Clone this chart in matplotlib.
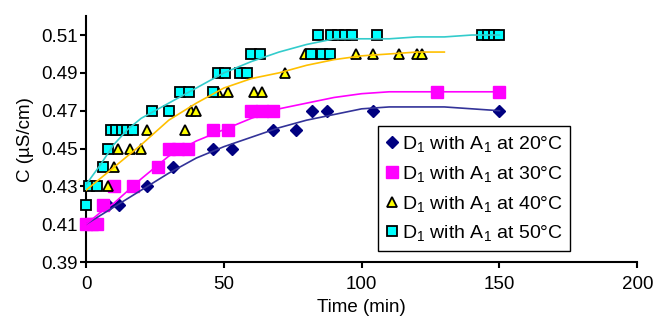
import matplotlib
matplotlib.use("Agg")
import matplotlib.pyplot as plt

plt.rcParams['font.family'] = ['Liberation Sans', 'DejaVu Sans']
plt.rcParams['mathtext.fontset'] = 'custom'
plt.rcParams['mathtext.rm'] = 'Liberation Sans'
plt.rcParams['mathtext.it'] = 'Liberation Sans'

# ---- data ----
t20 = [1, 8, 12, 22, 31.5, 46, 53, 68, 76, 82, 87.5, 104, 150]
c20 = [0.41, 0.42, 0.42, 0.43, 0.44, 0.45, 0.45, 0.46, 0.46, 0.47, 0.47, 0.47, 0.47]

t30 = [0, 2, 4, 6, 10, 17, 26, 30, 33.5, 37, 46, 51.5, 60, 64, 68, 127.5, 150]
c30 = [0.41, 0.41, 0.41, 0.42, 0.43, 0.43, 0.44, 0.45, 0.45, 0.45, 0.46, 0.46,
       0.47, 0.47, 0.47, 0.48, 0.48]

t40 = [8, 10, 11.5, 16, 20, 22, 36, 38, 40, 48, 51.5, 61, 64, 72, 79.5, 98, 104,
       113.5, 120, 122]
c40 = [0.43, 0.44, 0.45, 0.45, 0.45, 0.46, 0.46, 0.47, 0.47, 0.48, 0.48, 0.48,
       0.48, 0.49, 0.50, 0.50, 0.50, 0.50, 0.50, 0.50]

t50 = [0, 1, 4, 6, 8, 9, 11, 13, 15, 17, 24, 30, 34, 37.5, 46, 48, 50.5, 56, 58.5,
       60, 63, 81.5, 85.5, 88.5, 84, 89, 91.5, 94, 96.5, 105.5, 143.5, 146, 148, 150]
c50 = [0.42, 0.43, 0.43, 0.44, 0.45, 0.46, 0.46, 0.46, 0.46, 0.46, 0.47, 0.47,
       0.48, 0.48, 0.48, 0.49, 0.49, 0.49, 0.49, 0.50, 0.50, 0.50, 0.50, 0.50,
       0.51, 0.51, 0.51, 0.51, 0.51, 0.51, 0.51, 0.51, 0.51, 0.51]

# trend curves
ft20 = [0, 10, 20, 30, 40, 50, 60, 70, 80, 90, 100, 110, 120, 130, 140, 150]
fc20 = [0.410, 0.419, 0.428, 0.437, 0.445, 0.451, 0.456, 0.461, 0.465, 0.468,
        0.471, 0.472, 0.472, 0.472, 0.471, 0.470]

ft30 = [0, 5, 10, 20, 30, 40, 50, 60, 70, 80, 90, 100, 110, 120, 130, 140, 150]
fc30 = [0.410, 0.416, 0.421, 0.434, 0.446, 0.454, 0.460, 0.466, 0.471, 0.474,
        0.477, 0.479, 0.480, 0.480, 0.480, 0.480, 0.480]

ft40 = [0, 10, 20, 30, 40, 50, 60, 70, 80, 90, 100, 110, 120, 130]
fc40 = [0.428, 0.440, 0.452, 0.465, 0.474, 0.482, 0.487, 0.490, 0.494, 0.497,
        0.499, 0.500, 0.501, 0.501]

ft50 = [0, 5, 10, 15, 20, 25, 30, 40, 50, 60, 70, 80, 90, 100, 110, 120, 130, 140, 150]
fc50 = [0.431, 0.441, 0.452, 0.460, 0.466, 0.470, 0.474, 0.482, 0.490, 0.496,
        0.501, 0.505, 0.508, 0.508, 0.508, 0.509, 0.509, 0.510, 0.510]

labels = ["D$_1$ with A$_1$ at 20°C", "D$_1$ with A$_1$ at 30°C",
          "D$_1$ with A$_1$ at 40°C", "D$_1$ with A$_1$ at 50°C"]

xticks = [0, 50, 100, 150, 200]
yticks = [0.39, 0.41, 0.43, 0.45, 0.47, 0.49, 0.51]

fig = plt.figure(figsize=(6.57, 3.22), dpi=100)
ax = fig.add_axes([0.131, 0.186, 0.839, 0.764])

lw = 1.2
ax.plot(ft20, fc20, color='#333399', lw=lw, zorder=4)
ax.plot(ft30, fc30, color='#FF00FF', lw=lw, zorder=4)
ax.plot(ft40, fc40, color='#FFC000', lw=lw, zorder=4)
ax.plot(ft50, fc50, color='#33CCCC', lw=lw, zorder=4)

ax.plot(t20, c20, ls='none', marker='D', ms=6, color='#000080', mec='#000080',
        label=labels[0], zorder=3, clip_on=False)
ax.plot(t30, c30, ls='none', marker='s', ms=8, color='#FF00FF', mec='#FF00FF',
        label=labels[1], zorder=3, clip_on=False)
ax.plot(t40, c40, ls='none', marker='^', ms=7, mfc='#FFFF00', mec='black', mew=1.3,
        label=labels[2], zorder=3, clip_on=False)
ax.plot(t50, c50, ls='none', marker='s', ms=6.5, mfc='#00FFFF', mec='black', mew=1.3,
        label=labels[3], zorder=3, clip_on=False)

ax.set_xlim(0, 200)
ax.set_ylim(0.39, 0.52)
ax.set_xticks(xticks)
ax.set_yticks(yticks)
ax.set_yticklabels([f"{v:.2f}" for v in yticks])
ax.spines['top'].set_visible(False)
ax.spines['right'].set_visible(False)
for s in ('left', 'bottom'):
    ax.spines[s].set_linewidth(1.5)
ax.tick_params(direction='out', length=4, width=1.5, labelsize=13.5, pad=2)
ax.tick_params(axis='x', pad=6)
ax.set_xlabel("Time (min)", fontsize=13.5, labelpad=4)
ax.set_ylabel("C (µS/cm)", fontsize=13.5, labelpad=5)

leg = ax.legend(loc='lower left', bbox_to_anchor=(0.53, 0.045), fontsize=14,
                frameon=True, fancybox=False, edgecolor='black', framealpha=1,
                handlelength=0.6, handletextpad=0.2, borderpad=0.4,
                labelspacing=0.5, borderaxespad=0)
leg.get_frame().set_linewidth(1.0)

fig.savefig("out.png", dpi=100)
